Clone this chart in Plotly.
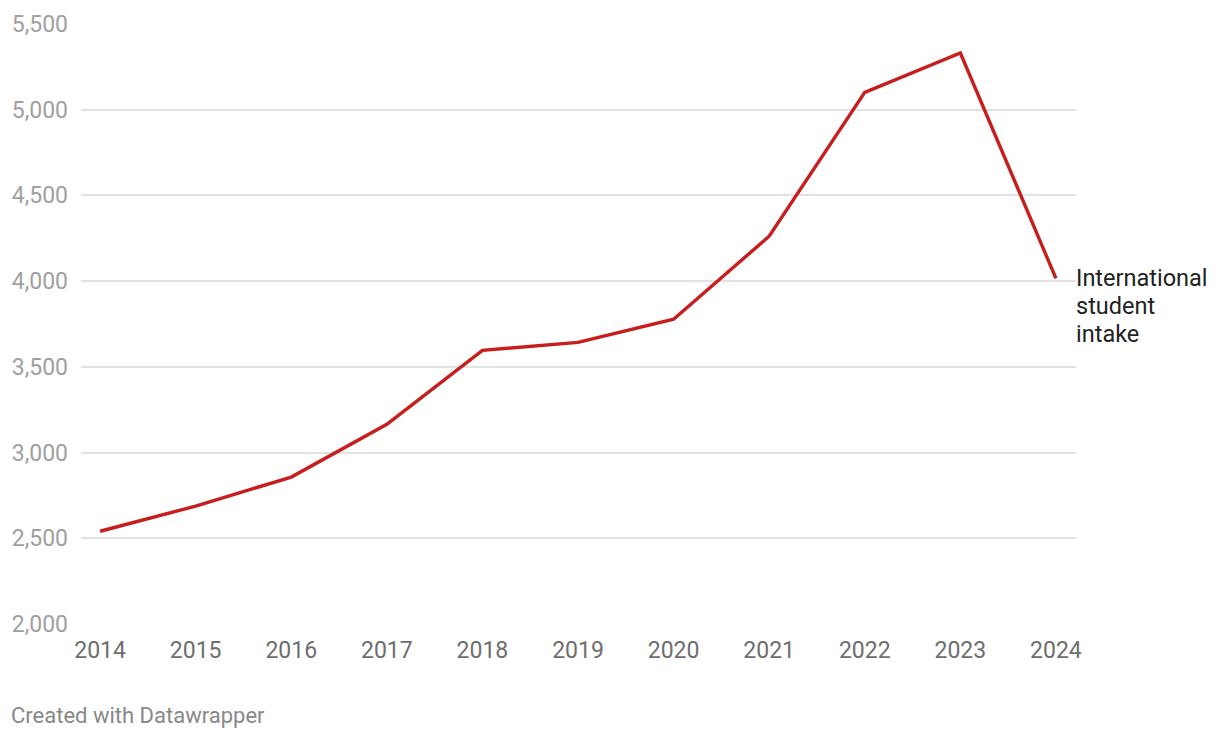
import plotly.graph_objects as go

years = [2014, 2015, 2016, 2017, 2018, 2019, 2020, 2021, 2022, 2023, 2024]
intake = [2541, 2688, 2857, 3165, 3596, 3643, 3778, 4262, 5101, 5331, 4016]
series_label_lines = ["International", "student", "intake"]
y_ticks = [2000, 2500, 3000, 3500, 4000, 4500, 5000, 5500]
footer = "Created with Datawrapper"

fig = go.Figure()
fig.add_trace(go.Scatter(
    x=years, y=intake, mode="lines",
    line=dict(color="#c71e1d", width=3.4),
    hoverinfo="skip", showlegend=False,
))

for i, line_text in enumerate(series_label_lines):
    fig.add_annotation(
        x=years[-1], y=intake[-1], xref="x", yref="y",
        text=line_text, showarrow=False, align="left",
        xanchor="left", yanchor="top", xshift=18, yshift=16 - 28 * i,
        font=dict(family="Roboto", size=23.5, color="#222222"),
    )
fig.add_annotation(
    x=0, y=0, xref="paper", yref="paper",
    xanchor="left", yanchor="bottom", xshift=-72, yshift=-106,
    text=footer, showarrow=False,
    font=dict(family="Roboto", size=22, color="#888888"),
)

fig.update_layout(
    width=1220, height=740,
    margin=dict(l=81, r=144, t=24, b=116),
    plot_bgcolor="white", paper_bgcolor="white",
    font=dict(family="Roboto"),
    xaxis=dict(
        range=[2013.8, 2024.21], tickmode="array", tickvals=years,
        ticktext=[str(y) for y in years], showgrid=False, zeroline=False,
        showline=False, ticks="", ticklabelstandoff=10,
        tickfont=dict(family="Roboto", size=23, color="#6e6e6e"),
    ),
    yaxis=dict(
        range=[2000, 5500], tickmode="array", tickvals=y_ticks,
        ticktext=[f"{v:,}" for v in y_ticks], showgrid=True,
        gridcolor="#e2e2e2", gridwidth=1.5, zeroline=False, showline=False,
        ticks="", ticklabelstandoff=12,
        tickfont=dict(family="Roboto", size=23, color="#a0a0a0"),
    ),
)

fig.write_html("out.html")
